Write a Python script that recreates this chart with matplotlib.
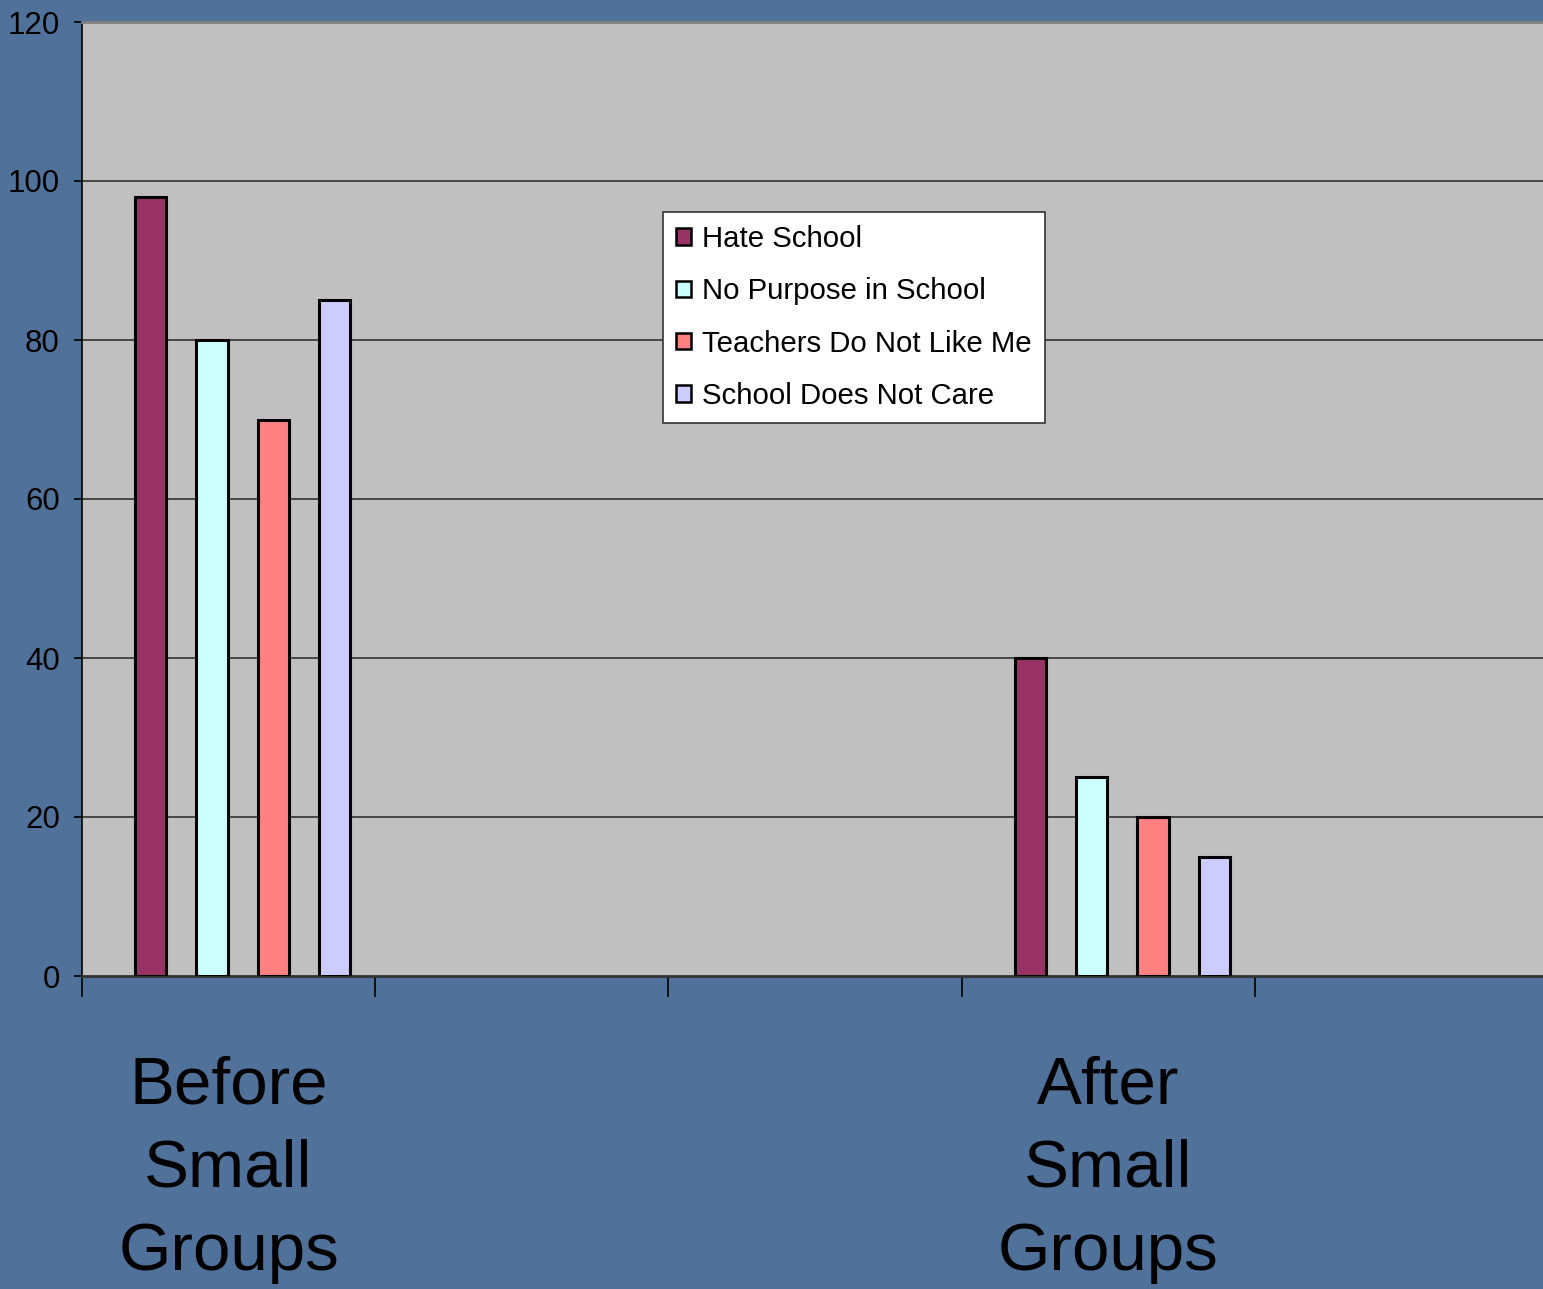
import matplotlib
matplotlib.use('Agg')
from matplotlib import pyplot as plt
from matplotlib.patches import Patch
import numpy as np

plt.rcParams['font.family'] = ['Liberation Sans', 'DejaVu Sans']

# data
categories = ['Before\nSmall\nGroups', '', '', 'After\nSmall\nGroups', '']
series_names = ['Hate School', 'No Purpose in School', 'Teachers Do Not Like Me', 'School Does Not Care']
hate_school = [98, 0, 0, 40, 0]
no_purpose = [80, 0, 0, 25, 0]
teachers_dislike = [70, 0, 0, 20, 0]
school_not_care = [85, 0, 0, 15, 0]
y_ticks = [0, 20, 40, 60, 80, 100, 120]

colors = ['#993366', '#CCFFFF', '#FF8080', '#CCCCFF']
series = [hate_school, no_purpose, teachers_dislike, school_not_care]

W, H = 1543, 1289
fig = plt.figure(figsize=(W / 100, H / 100), dpi=100)
fig.patch.set_facecolor('#4f719a')

ax = fig.add_axes([82 / W, (H - 976) / H, 1466 / W, 954 / H])
ax.set_facecolor('#c0c0c0')

x = np.arange(len(categories))
bar_w = 0.107
step = 0.2093
first = -0.266
for k, (vals, col) in enumerate(zip(series, colors)):
    xs = [xi + first + k * step for xi, v in zip(x, vals) if v > 0]
    vs = [v for v in vals if v > 0]
    ax.bar(xs, vs, width=bar_w, color=col, edgecolor='black', linewidth=2.2, zorder=3)

ax.set_xlim(-0.5, len(categories) - 0.5)
ax.set_ylim(0, 120)
ax.set_yticks(y_ticks)
ax.set_yticklabels([str(t) for t in y_ticks], fontsize=22.5)
ax.tick_params(axis='y', direction='out', length=6, width=1.2, pad=10, colors='black')

for t in y_ticks[1:-1]:
    ax.axhline(t, color='#333333', linewidth=1.2, zorder=1)

# category labels at centers, ticks at boundaries
ax.set_xticks(x)
ax.set_xticklabels(categories, fontsize=48.5, linespacing=1.45, va='top')
ax.tick_params(axis='x', which='major', length=0, pad=57)
ax.set_xticks(np.arange(-0.5, len(categories)), minor=True)
ax.tick_params(axis='x', which='minor', length=15, width=1.2, direction='out', colors='black')

ax.spines['left'].set_color('black')
ax.spines['left'].set_linewidth(1.2)
ax.spines['bottom'].set_color('#333333')
ax.spines['bottom'].set_linewidth(2)
ax.spines['top'].set_color('#808080')
ax.spines['top'].set_linewidth(2)
ax.spines['right'].set_visible(False)

handles = [Patch(facecolor=c, edgecolor='black', linewidth=1.8, label=n) for c, n in zip(colors, series_names)]
leg = ax.legend(handles=handles, loc='upper left', bbox_to_anchor=(663 / W, 1 - 212 / H),
                bbox_transform=fig.transFigure, borderaxespad=0, fontsize=21.2,
                handlelength=0.5, handleheight=0.5, handletextpad=0.38,
                labelspacing=0.82, borderpad=0.45, fancybox=False, framealpha=1,
                edgecolor='#333333', facecolor='white')
leg.get_frame().set_linewidth(1.2)
leg.set_zorder(5)

fig.savefig('out.png', dpi=100, facecolor=fig.get_facecolor())
